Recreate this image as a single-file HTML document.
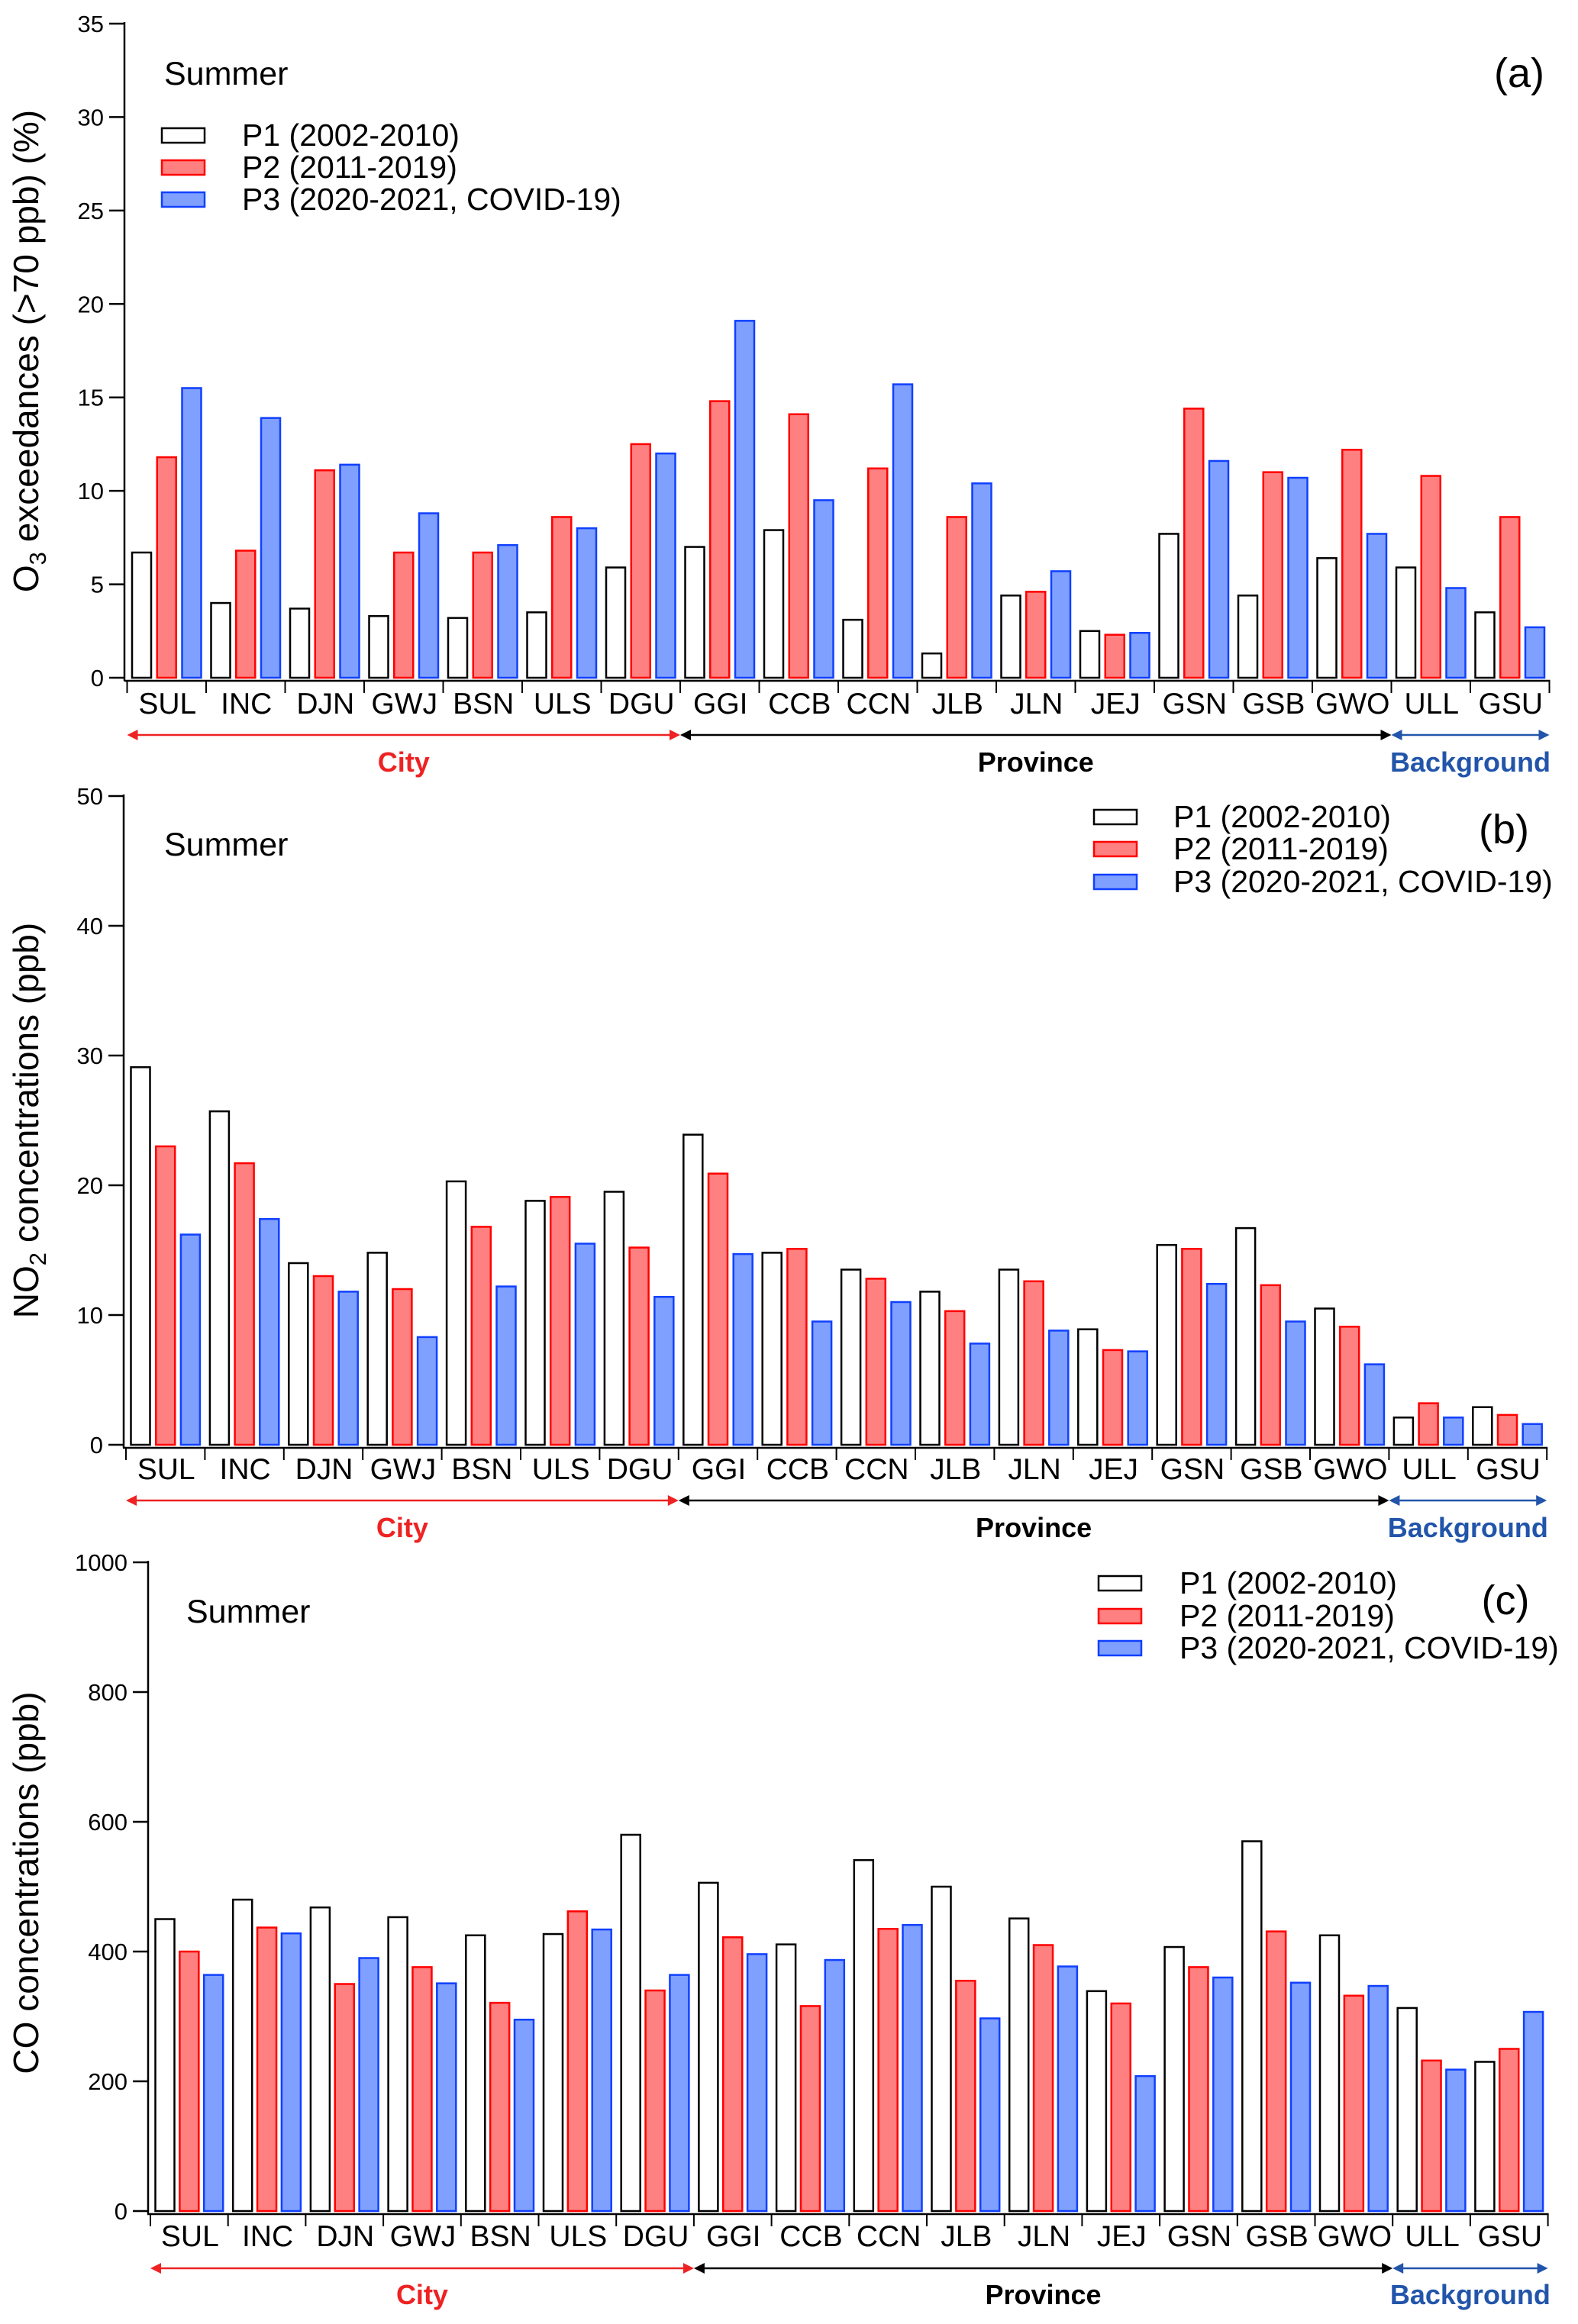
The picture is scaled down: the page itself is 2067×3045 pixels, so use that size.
<!DOCTYPE html>
<html><head><meta charset="utf-8"><style>
html,body{margin:0;padding:0;background:#fff}
svg{display:block;font-family:"Liberation Sans",Arial,sans-serif}
</style></head><body>
<svg id="chart" xmlns="http://www.w3.org/2000/svg" width="2067" height="3045" viewBox="0 0 2067 3045"></svg>
<script>
const categories = ["SUL","INC","DJN","GWJ","BSN","ULS","DGU","GGI","CCB","CCN","JLB","JLN","JEJ","GSN","GSB","GWO","ULL","GSU"];
const seriesNames = ["P1 (2002-2010)","P2 (2011-2019)","P3 (2020-2021, COVID-19)"];
const o3P1 = [6.7,4.0,3.7,3.3,3.2,3.5,5.9,7.0,7.9,3.1,1.3,4.4,2.5,7.7,4.4,6.4,5.9,3.5];
const o3P2 = [11.8,6.8,11.1,6.7,6.7,8.6,12.5,14.8,14.1,11.2,8.6,4.6,2.3,14.4,11.0,12.2,10.8,8.6];
const o3P3 = [15.5,13.9,11.4,8.8,7.1,8.0,12.0,19.1,9.5,15.7,10.4,5.7,2.4,11.6,10.7,7.7,4.8,2.7];
const no2P1 = [29.1,25.7,14.0,14.8,20.3,18.8,19.5,23.9,14.8,13.5,11.8,13.5,8.9,15.4,16.7,10.5,2.1,2.9];
const no2P2 = [23.0,21.7,13.0,12.0,16.8,19.1,15.2,20.9,15.1,12.8,10.3,12.6,7.3,15.1,12.3,9.1,3.2,2.3];
const no2P3 = [16.2,17.4,11.8,8.3,12.2,15.5,11.4,14.7,9.5,11.0,7.8,8.8,7.2,12.4,9.5,6.2,2.1,1.6];
const coP1 = [450,480,468,453,425,427,580,506,411,541,500,451,339,407,570,425,313,230];
const coP2 = [400,437,350,376,321,462,340,422,316,435,355,410,320,376,431,332,232,250];
const coP3 = [364,428,390,351,295,434,364,396,387,441,297,377,208,360,352,347,218,307];
const o3Ticks = [0,5,10,15,20,25,30,35];
const no2Ticks = [0,10,20,30,40,50];
const coTicks = [0,200,400,600,800,1000];

const NS="http://www.w3.org/2000/svg";
const svg=document.getElementById('chart');
function mk(tag,attrs,parent){const e=document.createElementNS(NS,tag);for(const k in attrs)e.setAttribute(k,attrs[k]);(parent||svg).appendChild(e);return e;}
const fills=["#ffffff","#ff8080","#80a0ff"];
const strokes=["#000000","#ff0000","#1040ff"];

const panels=[
 {id:"a",data:[o3P1,o3P2,o3P3],ticks:o3Ticks,ymax:35,axisX:163,x0:166.5,gw:103.5,yTop:31,yBase:888,labelY:935,arrowY:963,groupY:1011,summerX:215,summerY:111,
  legX:212,legTextX:317,legY:[177,219,261],tagX:1990,tagY:96,titleX:50,titleY:460},
 {id:"b",data:[no2P1,no2P2,no2P3],ticks:no2Ticks,ymax:50,axisX:162,x0:165,gw:103.4,yTop:1043,yBase:1893,labelY:1938,arrowY:1966,groupY:2014,summerX:215,summerY:1121,
  legX:1433,legTextX:1537,legY:[1070,1112,1155],tagX:1970,tagY:1087,titleX:50,titleY:1468},
 {id:"c",data:[coP1,coP2,coP3],ticks:coTicks,ymax:1000,axisX:194,x0:197,gw:101.7,yTop:2047,yBase:2897,labelY:2943,arrowY:2972,groupY:3019,summerX:244,summerY:2126,
  legX:1439,legTextX:1545,legY:[2074,2117,2159],tagX:1972,tagY:2097,titleX:50,titleY:2467}
];

panels.forEach(p=>{
  const g=mk('g',{});
  
  
  const yS=v=>p.yBase-(v/p.ymax)*(p.yBase-p.yTop);
  const xEnd=p.x0+categories.length*p.gw;
  const ya=mk('line',{x1:p.axisX,y1:p.yTop-2,x2:p.axisX,y2:p.yBase+4,stroke:"#000","stroke-width":2.5},g);
  
  
  p.ticks.forEach(t=>{
    const y=yS(t);
    mk('line',{x1:p.axisX-20,y1:y,x2:p.axisX,y2:y,stroke:"#000","stroke-width":2.5},g);
    const tl=mk('text',{x:p.axisX-27,y:y+11,"font-size":31,"text-anchor":"end",fill:"#000"},g);
    tl.textContent=t;
    
    
  });
  const xa=mk('line',{x1:p.x0-4,y1:p.yBase+4,x2:xEnd+1,y2:p.yBase+4,stroke:"#000","stroke-width":2.5},g);
  
  
  for(let i=0;i<=categories.length;i++){
    const x=p.x0+i*p.gw;
    mk('line',{x1:x,y1:p.yBase+4,x2:x,y2:p.yBase+20,stroke:"#000","stroke-width":2},g);
  }
  categories.forEach((c,i)=>{
    const cx=p.x0+i*p.gw+p.gw/2+1;
    const t=mk('text',{x:cx,y:p.labelY,"font-size":39,"text-anchor":"middle",fill:"#000"},g);
    t.textContent=c;
    
    
    for(let s=0;s<3;s++){
      const v=p.data[s][i];
      const bx=p.x0+i*p.gw+6.5+s*(p.gw-6.5*2-25)/2;
      const y=yS(v);
      const r=mk('rect',{x:bx,y:y,width:25,height:p.yBase-y,fill:fills[s],stroke:strokes[s],"stroke-width":2.5},g);
      
      
    }
  });
  const b1=p.x0+7*p.gw, b2=p.x0+16*p.gw;
  const arrows=[[p.x0,b1,"#ee2222","City"],[b1,b2,"#000000","Province"],[b2,xEnd,"#2255aa","Background"]];
  arrows.forEach(a=>{
    const [x1,x2,col,name]=a;
    const ag=mk('g',{},g);
    
    
    mk('line',{x1:x1+12,y1:p.arrowY,x2:x2-12,y2:p.arrowY,stroke:col,"stroke-width":2.5},ag);
    mk('polygon',{points:`${x1},${p.arrowY} ${x1+14},${p.arrowY-7} ${x1+14},${p.arrowY+7}`,fill:col},ag);
    mk('polygon',{points:`${x2},${p.arrowY} ${x2-14},${p.arrowY-7} ${x2-14},${p.arrowY+7}`,fill:col},ag);
    const t=mk('text',{x:(x1+x2)/2,y:p.groupY,"font-size":36,"font-weight":"bold","text-anchor":"middle",fill:col},ag);
    t.textContent=name;
    
    
  });
  const sm=mk('text',{x:p.summerX,y:p.summerY,"font-size":43,fill:"#000"},g);
  sm.textContent="Summer";
  
  
  const tg=mk('text',{x:p.tagX,y:p.tagY+18,"font-size":54,"text-anchor":"middle",fill:"#000"},g);
  tg.textContent="("+p.id+")";
  
  
  seriesNames.forEach((n,s)=>{
    const lg=mk('g',{},g);
    
    
    mk('rect',{x:p.legX,y:p.legY[s]-9,width:56,height:19,fill:fills[s],stroke:strokes[s],"stroke-width":2.5},lg);
    const t=mk('text',{x:p.legTextX,y:p.legY[s]+14,"font-size":41,fill:"#000"},lg);
    t.textContent=n;
  });
  const tt=mk('text',{x:p.titleX,y:p.titleY,"font-size":46,"text-anchor":"middle",fill:"#000",transform:`rotate(-90 ${p.titleX} ${p.titleY})`},g);
  
  
  if(p.id==="a"){tt.innerHTML='O<tspan font-size="31" dy="10">3</tspan><tspan dy="-10"> exceedances (&gt;70 ppb) (%)</tspan>';}
  else if(p.id==="b"){tt.innerHTML='NO<tspan font-size="31" dy="10">2</tspan><tspan dy="-10"> concentrations (ppb)</tspan>';}
  else {tt.textContent='CO concentrations (ppb)';}
});
</script>
</body></html>
